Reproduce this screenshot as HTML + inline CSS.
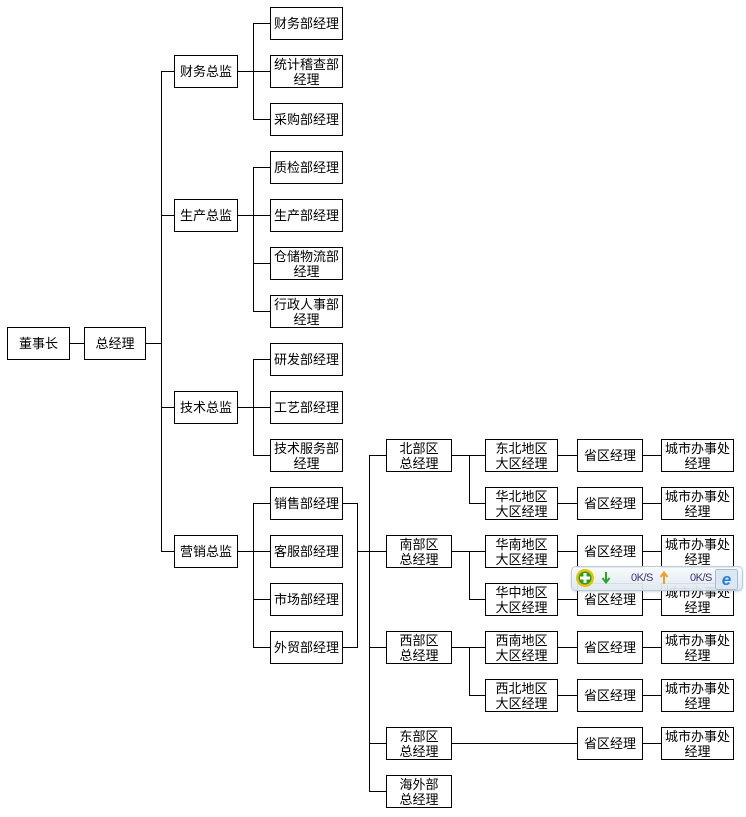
<!DOCTYPE html>
<html><head><meta charset="utf-8">
<style>
html,body{margin:0;padding:0;background:#fff;}
body{width:746px;height:817px;position:relative;overflow:hidden;font-family:"Liberation Sans","WenQuanYi Zen Hei","Noto Sans CJK SC",sans-serif;}
.b{position:absolute;box-sizing:border-box;height:33px;border:1px solid #000;background:#fff;display:flex;align-items:center;justify-content:center;text-align:center;font-size:13px;line-height:15px;color:#000;white-space:nowrap;}
.h{position:absolute;height:1px;background:#000;}
.v{position:absolute;width:1px;background:#000;}
.w{position:absolute;left:571px;top:566px;width:172px;height:25px;box-sizing:border-box;border:1px solid #b9c9d7;border-radius:5px;background:linear-gradient(#f8fbfd,#dfe8f0);opacity:0.93;box-shadow:0 1px 2px rgba(0,0,0,0.18);}
.t{position:absolute;font-family:"Liberation Sans",sans-serif;font-size:11px;color:#3d3478;top:572px;letter-spacing:-0.5px;}
</style></head><body>

<!-- lines -->
<div class="h" style="left:69px;width:15px;top:343px"></div>
<div class="h" style="left:145px;width:16px;top:343px"></div>
<div class="v" style="left:161px;top:71px;height:481px"></div>
<div class="h" style="left:161px;width:13px;top:71px"></div>
<div class="h" style="left:161px;width:13px;top:215px"></div>
<div class="h" style="left:161px;width:13px;top:407px"></div>
<div class="h" style="left:161px;width:13px;top:551px"></div>

<div class="h" style="left:237px;width:16px;top:71px"></div>
<div class="h" style="left:237px;width:16px;top:215px"></div>
<div class="h" style="left:237px;width:16px;top:407px"></div>
<div class="h" style="left:237px;width:16px;top:551px"></div>

<div class="v" style="left:253px;top:23px;height:97px"></div>
<div class="v" style="left:253px;top:167px;height:145px"></div>
<div class="v" style="left:253px;top:359px;height:97px"></div>
<div class="v" style="left:253px;top:503px;height:145px"></div>

<div class="h" style="left:253px;width:17px;top:23px"></div>
<div class="h" style="left:253px;width:17px;top:71px"></div>
<div class="h" style="left:253px;width:17px;top:119px"></div>
<div class="h" style="left:253px;width:17px;top:167px"></div>
<div class="h" style="left:253px;width:17px;top:215px"></div>
<div class="h" style="left:253px;width:17px;top:263px"></div>
<div class="h" style="left:253px;width:17px;top:311px"></div>
<div class="h" style="left:253px;width:17px;top:359px"></div>
<div class="h" style="left:253px;width:17px;top:407px"></div>
<div class="h" style="left:253px;width:17px;top:455px"></div>
<div class="h" style="left:253px;width:17px;top:503px"></div>
<div class="h" style="left:253px;width:17px;top:551px"></div>
<div class="h" style="left:253px;width:17px;top:599px"></div>
<div class="h" style="left:253px;width:17px;top:647px"></div>

<div class="h" style="left:343px;width:14px;top:503px"></div>
<div class="h" style="left:343px;width:14px;top:647px"></div>
<div class="v" style="left:357px;top:503px;height:145px"></div>
<div class="h" style="left:357px;width:29px;top:551px"></div>

<div class="v" style="left:369px;top:455px;height:337px"></div>
<div class="h" style="left:369px;width:17px;top:455px"></div>
<div class="h" style="left:369px;width:17px;top:647px"></div>
<div class="h" style="left:369px;width:17px;top:743px"></div>
<div class="h" style="left:369px;width:17px;top:791px"></div>

<div class="h" style="left:451px;width:34px;top:455px"></div>
<div class="h" style="left:451px;width:34px;top:551px"></div>
<div class="h" style="left:451px;width:34px;top:647px"></div>
<div class="v" style="left:469px;top:455px;height:49px"></div>
<div class="v" style="left:469px;top:551px;height:49px"></div>
<div class="v" style="left:469px;top:647px;height:49px"></div>
<div class="h" style="left:469px;width:16px;top:503px"></div>
<div class="h" style="left:469px;width:16px;top:599px"></div>
<div class="h" style="left:469px;width:16px;top:695px"></div>
<div class="h" style="left:451px;width:126px;top:743px"></div>

<div class="h" style="left:557px;width:20px;top:455px"></div>
<div class="h" style="left:557px;width:20px;top:503px"></div>
<div class="h" style="left:557px;width:20px;top:551px"></div>
<div class="h" style="left:557px;width:20px;top:599px"></div>
<div class="h" style="left:557px;width:20px;top:647px"></div>
<div class="h" style="left:557px;width:20px;top:695px"></div>

<div class="h" style="left:643px;width:18px;top:455px"></div>
<div class="h" style="left:643px;width:18px;top:503px"></div>
<div class="h" style="left:643px;width:18px;top:551px"></div>
<div class="h" style="left:643px;width:18px;top:599px"></div>
<div class="h" style="left:643px;width:18px;top:647px"></div>
<div class="h" style="left:643px;width:18px;top:695px"></div>
<div class="h" style="left:643px;width:18px;top:743px"></div>

<!-- boxes -->
<div class="b" style="left:7px;top:327px;width:63px">董事长</div>
<div class="b" style="left:84px;top:327px;width:62px">总经理</div>

<div class="b" style="left:174px;top:55px;width:64px">财务总监</div>
<div class="b" style="left:174px;top:199px;width:64px">生产总监</div>
<div class="b" style="left:174px;top:391px;width:64px">技术总监</div>
<div class="b" style="left:174px;top:535px;width:64px">营销总监</div>

<div class="b" style="left:270px;top:7px;width:73px">财务部经理</div>
<div class="b" style="left:270px;top:55px;width:73px">统计稽查部<br>经理</div>
<div class="b" style="left:270px;top:103px;width:73px">采购部经理</div>
<div class="b" style="left:270px;top:151px;width:73px">质检部经理</div>
<div class="b" style="left:270px;top:199px;width:73px">生产部经理</div>
<div class="b" style="left:270px;top:247px;width:73px">仓储物流部<br>经理</div>
<div class="b" style="left:270px;top:295px;width:73px">行政人事部<br>经理</div>
<div class="b" style="left:270px;top:343px;width:73px">研发部经理</div>
<div class="b" style="left:270px;top:391px;width:73px">工艺部经理</div>
<div class="b" style="left:270px;top:439px;width:73px">技术服务部<br>经理</div>
<div class="b" style="left:270px;top:487px;width:73px">销售部经理</div>
<div class="b" style="left:270px;top:535px;width:73px">客服部经理</div>
<div class="b" style="left:270px;top:583px;width:73px">市场部经理</div>
<div class="b" style="left:270px;top:631px;width:73px">外贸部经理</div>

<div class="b" style="left:386px;top:439px;width:66px">北部区<br>总经理</div>
<div class="b" style="left:386px;top:535px;width:66px">南部区<br>总经理</div>
<div class="b" style="left:386px;top:631px;width:66px">西部区<br>总经理</div>
<div class="b" style="left:386px;top:727px;width:66px">东部区<br>总经理</div>
<div class="b" style="left:386px;top:775px;width:66px">海外部<br>总经理</div>

<div class="b" style="left:485px;top:439px;width:73px">东北地区<br>大区经理</div>
<div class="b" style="left:485px;top:487px;width:73px">华北地区<br>大区经理</div>
<div class="b" style="left:485px;top:535px;width:73px">华南地区<br>大区经理</div>
<div class="b" style="left:485px;top:583px;width:73px">华中地区<br>大区经理</div>
<div class="b" style="left:485px;top:631px;width:73px">西南地区<br>大区经理</div>
<div class="b" style="left:485px;top:679px;width:73px">西北地区<br>大区经理</div>

<div class="b" style="left:577px;top:439px;width:66px">省区经理</div>
<div class="b" style="left:577px;top:487px;width:66px">省区经理</div>
<div class="b" style="left:577px;top:535px;width:66px">省区经理</div>
<div class="b" style="left:577px;top:583px;width:66px">省区经理</div>
<div class="b" style="left:577px;top:631px;width:66px">省区经理</div>
<div class="b" style="left:577px;top:679px;width:66px">省区经理</div>
<div class="b" style="left:577px;top:727px;width:66px">省区经理</div>

<div class="b" style="left:661px;top:439px;width:73px">城市办事处<br>经理</div>
<div class="b" style="left:661px;top:487px;width:73px">城市办事处<br>经理</div>
<div class="b" style="left:661px;top:535px;width:73px">城市办事处<br>经理</div>
<div class="b" style="left:661px;top:583px;width:73px">城市办事处<br>经理</div>
<div class="b" style="left:661px;top:631px;width:73px">城市办事处<br>经理</div>
<div class="b" style="left:661px;top:679px;width:73px">城市办事处<br>经理</div>
<div class="b" style="left:661px;top:727px;width:73px">城市办事处<br>经理</div>

<!-- floating widget -->
<div class="w"></div>
<svg style="position:absolute;left:571px;top:566px" width="175" height="26" viewBox="0 0 175 26">
  <circle cx="14" cy="12" r="9" fill="#e3c20a"/>
  <circle cx="14" cy="12" r="6.5" fill="#2f9b1d"/>
  <rect x="12.5" y="7" width="3" height="10" fill="#fff"/>
  <rect x="9" y="10.5" width="10" height="3" fill="#fff"/>
  <path d="M35 6 L35 15" stroke="#2aa52a" stroke-width="2"/>
  <path d="M31.5 12 L35 16.5 L38.5 12" stroke="#2aa52a" stroke-width="2" fill="none"/>
  <path d="M93 18 L93 8" stroke="#f0a020" stroke-width="2"/>
  <path d="M89.5 11 L93 6.5 L96.5 11" stroke="#f0a020" stroke-width="2" fill="none"/>
  <rect x="144.5" y="3.5" width="22" height="20" rx="2" fill="#dbe7f2" stroke="#a9bccd"/>
  <text x="155.5" y="19" text-anchor="middle" font-family="Liberation Sans, sans-serif" font-size="17" font-weight="bold" font-style="italic" fill="#2a7fd4">e</text>
</svg>
<div class="t" style="left:631px">0K/S</div>
<div class="t" style="left:690px">0K/S</div>

</body></html>
